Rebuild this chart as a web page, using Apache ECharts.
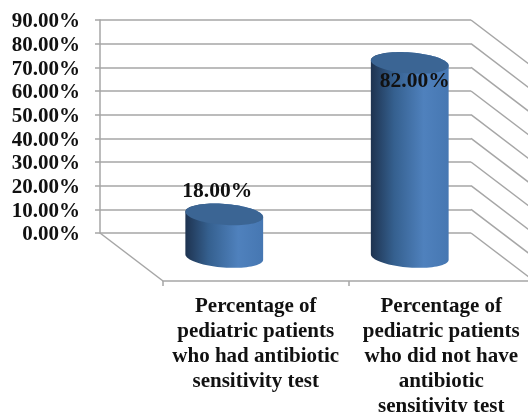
<!DOCTYPE html>
<html>
<head>
<meta charset="utf-8">
<style>html,body{margin:0;padding:0;background:#fff}#chart{width:528px;height:412px}</style>
<script src="https://cdn.jsdelivr.net/npm/echarts@6/dist/echarts.min.js"></script>
</head>
<body>
<div id="chart"></div>
<script>
const categories = [
  'Percentage of\npediatric patients\nwho had antibiotic\nsensitivity test',
  'Percentage of\npediatric patients\nwho did not have\nantibiotic\nsensitivity test'
];
const shareValues = [18, 82];
const tickValues = [0, 10, 20, 30, 40, 50, 60, 70, 80, 90];

const AXIS_GREY = '#a6a6a6';
const SERIF = '"Liberation Serif", "Times New Roman", serif';

// The 3D box is faked with three stacked planes: back wall, cylinder plane, floor front edge.
const DEPTH_X = 63, DEPTH_Y = 48;
const WALL = { left: 100, top: 20, width: 371, height: 213 };
const plane = (k) => ({
  left: WALL.left + DEPTH_X * k,
  top: WALL.top + DEPTH_Y * k,
  width: WALL.width,
  height: WALL.height,
  // The front edge and its last label run past the canvas, so the grid must not shrink to fit.
  outerBoundsMode: 'none'
});

const hiddenCategoryAxis = (gridIndex) => ({
  type: 'category', gridIndex, data: categories, show: false
});
const hiddenValueAxis = (gridIndex) => ({
  type: 'value', gridIndex, min: 0, max: 90, interval: 10, show: false
});

// Points along a tilted ellipse arc, used for the cylinder outline.
function arc(cx, cy, rx, ry, tilt, from, to, steps) {
  const pts = [];
  for (let i = 0; i <= steps; i++) {
    const t = from + (to - from) * i / steps;
    const ex = rx * Math.cos(t), ey = ry * Math.sin(t);
    pts.push([
      cx + ex * Math.cos(tilt) - ey * Math.sin(tilt),
      cy + ex * Math.sin(tilt) + ey * Math.cos(tilt)
    ]);
  }
  return pts;
}

function renderCylinder(params, api) {
  const idx = api.value(0), val = api.value(1);
  const base = api.coord([idx, 0]);
  const top = api.coord([idx, val]);
  const rx = 39, ry = 10.5, tilt = 0.075;
  const lower = arc(base[0], base[1], rx, ry, tilt, 0, Math.PI, 40);
  const upper = arc(top[0], top[1], rx, ry, tilt, Math.PI, 2 * Math.PI, 40);
  const inside = val > 50;
  return {
    type: 'group',
    children: [
      {
        type: 'polygon',
        shape: { points: lower.concat(upper) },
        style: {
          fill: new echarts.graphic.LinearGradient(0, 0, 1, 0, [
            { offset: 0, color: '#1e3350' },
            { offset: 0.3, color: '#35608f' },
            { offset: 0.68, color: '#4f81bd' },
            { offset: 1, color: '#4677b2' }
          ])
        }
      },
      {
        type: 'polygon',
        shape: { points: arc(top[0], top[1], rx, ry, tilt, 0, 2 * Math.PI, 80) },
        style: { fill: '#3b6594' }
      },
      {
        type: 'text',
        z2: 10,
        style: {
          x: top[0] + (inside ? 5 : -7),
          y: top[1] + (inside ? 19 : -23),
          text: val.toFixed(2) + '%',
          fill: '#111',
          font: 'bold 21.5px ' + SERIF,
          align: 'center',
          verticalAlign: 'middle'
        }
      }
    ]
  };
}

// Diagonal side-wall lines running forward from the back wall's right edge.
function renderSideLine(params, api) {
  const y = api.coord([0, api.value(0)])[1];
  const x = params.coordSys.x + params.coordSys.width;
  return {
    type: 'line',
    shape: { x1: x, y1: y, x2: x + DEPTH_X, y2: y + DEPTH_Y },
    style: { stroke: AXIS_GREY, lineWidth: 1.5 }
  };
}

// Left floor edge from the wall's zero line to the front edge.
function renderFloorEdge(params, api) {
  const p = api.coord([0, 0]);
  const x = params.coordSys.x;
  return {
    type: 'line',
    shape: { x1: x, y1: p[1], x2: x + DEPTH_X, y2: p[1] + DEPTH_Y },
    style: { stroke: AXIS_GREY, lineWidth: 1.5 }
  };
}

const chart = echarts.init(document.getElementById('chart'), null, { renderer: 'canvas' });
chart.setOption({
  animation: false,
  backgroundColor: '#fff',
  grid: [plane(0), plane(0.5), plane(1)],
  xAxis: [
    hiddenCategoryAxis(0),
    hiddenCategoryAxis(1),
    {
      type: 'category',
      gridIndex: 2,
      data: categories,
      axisLine: { lineStyle: { color: AXIS_GREY, width: 1.5 } },
      axisTick: { show: true, length: 5, lineStyle: { color: AXIS_GREY, width: 1.5 } },
      axisLabel: {
        interval: 0,
        margin: 13,
        color: '#111',
        fontFamily: SERIF,
        fontWeight: 'bold',
        fontSize: 21,
        lineHeight: 25,
        align: 'center'
      }
    }
  ],
  yAxis: [
    {
      type: 'value',
      gridIndex: 0,
      min: 0,
      max: 90,
      interval: 10,
      axisLine: { show: true, lineStyle: { color: AXIS_GREY, width: 1.5 } },
      axisTick: { show: true, length: 5, lineStyle: { color: AXIS_GREY, width: 1.5 } },
      splitLine: { show: true, lineStyle: { color: AXIS_GREY, width: 1.5 } },
      axisLabel: {
        margin: 20,
        formatter: (v) => '{tick|' + v.toFixed(2) + '%}',
        rich: {
          tick: {
            color: '#111',
            fontFamily: SERIF,
            fontWeight: 'bold',
            fontSize: 21,
            padding: [4, 0, 0, 0]
          }
        }
      }
    },
    hiddenValueAxis(1),
    hiddenValueAxis(2)
  ],
  series: [
    {
      type: 'custom',
      xAxisIndex: 0,
      yAxisIndex: 0,
      silent: true,
      z: 1,
      clip: false,
      renderItem: renderSideLine,
      encode: { y: 0 },
      data: tickValues.map((v) => [v])
    },
    {
      type: 'custom',
      xAxisIndex: 0,
      yAxisIndex: 0,
      silent: true,
      z: 1,
      clip: false,
      renderItem: renderFloorEdge,
      data: [[0]]
    },
    {
      type: 'custom',
      xAxisIndex: 1,
      yAxisIndex: 1,
      silent: true,
      z: 5,
      clip: false,
      renderItem: renderCylinder,
      encode: { x: 0, y: 1 },
      data: shareValues.map((v, i) => [i, v])
    }
  ]
});
</script>
</body>
</html>
